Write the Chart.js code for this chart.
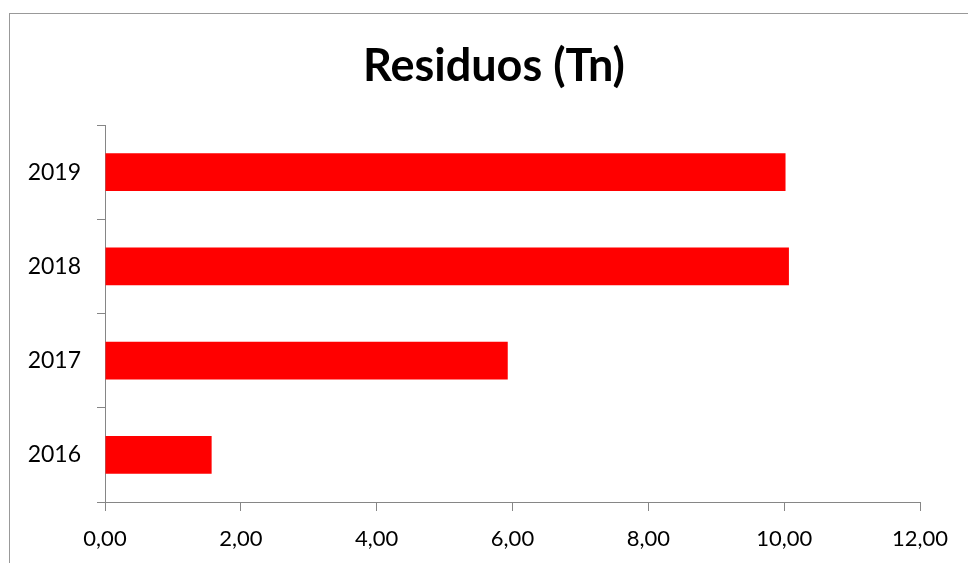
<!DOCTYPE html>
<html>
<head>
<meta charset="utf-8">
<script src="https://cdn.jsdelivr.net/npm/chart.js@4"></script>
<style>
  html, body { margin: 0; padding: 0; background: #fff; overflow: hidden; }
  #wrap { position: relative; width: 968px; height: 563px; }
  #frame { position: absolute; left: 9px; top: 13px; width: 2000px; height: 2000px; border: 1px solid #999; }
  #myChart { position: absolute; left: 0; top: 0; }
</style>
</head>
<body>
<div id="wrap">
  <div id="frame"></div>
  <canvas id="myChart" width="968" height="563"></canvas>
</div>
<script>
const years = ['2016', '2017', '2018', '2019'];
const residuos = [1.57, 5.93, 10.07, 10.02];
const xTicks = [0, 2, 4, 6, 8, 10, 12];

const axisGray = '#868686';

// the original title sits a bit right of the plot centre
const shiftTitle = {
  id: 'shiftTitle',
  afterLayout(chart) {
    const t = chart.titleBlock;
    if (t) { t.left += 34; t.right += 34; }
  }
};

new Chart(document.getElementById('myChart').getContext('2d'), {
  type: 'bar',
  data: {
    labels: years,
    datasets: [{
      label: 'Residuos (Tn)',
      data: residuos,
      backgroundColor: '#ff0000',
      borderWidth: 0,
      barPercentage: 0.4,
      categoryPercentage: 1
    }]
  },
  options: {
    indexAxis: 'y',
    responsive: false,
    animation: false,
    layout: { padding: { left: 0, right: 48, top: 0, bottom: 0 } },
    plugins: {
      legend: { display: false },
      tooltip: { enabled: false },
      title: {
        display: true,
        text: 'Residuos (Tn)',
        color: '#000',
        font: { family: 'Lato', size: 45, weight: 'bold' },
        padding: { top: 39, bottom: 32 }
      }
    },
    scales: {
      x: {
        min: xTicks[0],
        max: xTicks[xTicks.length - 1],
        afterBuildTicks: (scale) => { scale.ticks = xTicks.map(v => ({ value: v })); },
        afterFit: (scale) => { scale.height = 61; },
        border: { display: true, color: axisGray, width: 1 },
        grid: { drawOnChartArea: false, drawTicks: true, tickLength: 9, color: axisGray },
        ticks: {
          color: '#000',
          padding: 15,
          font: { family: 'Lato', size: 22 },
          callback: (v) => Number(v).toFixed(2).replace('.', ',')
        }
      },
      y: {
        reverse: true,
        afterFit: (scale) => { scale.width = 105; },
        border: { display: true, color: axisGray, width: 1 },
        grid: { drawOnChartArea: false, drawTicks: true, tickLength: 8, color: axisGray, offset: true },
        ticks: {
          color: '#000',
          padding: 16,
          font: { family: 'Lato', size: 23 }
        }
      }
    }
  },
  plugins: [shiftTitle]
});
</script>
</body>
</html>
